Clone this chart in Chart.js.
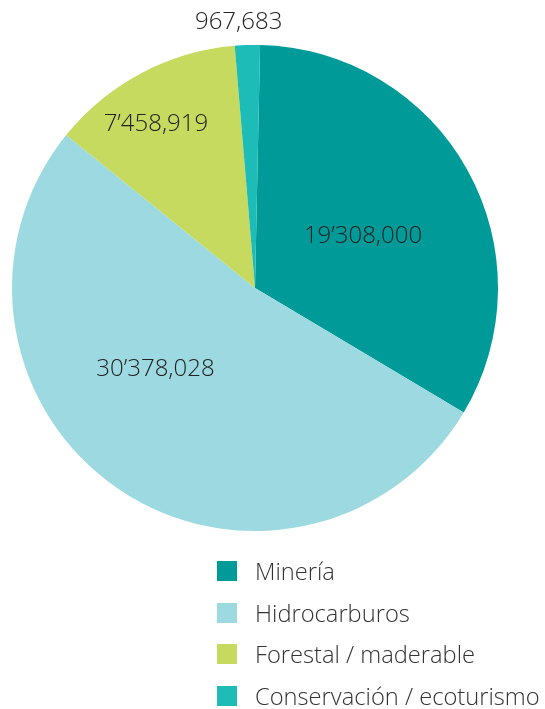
<!DOCTYPE html>
<html lang="es">
<head>
<meta charset="utf-8">
<title>Superficie por actividad</title>
<script src="https://cdn.jsdelivr.net/npm/chart.js@4.4.1/dist/chart.umd.min.js"></script>
<style>
    html, body { margin: 0; padding: 0; background: #fff; }
    body { width: 545px; height: 709px; position: relative; overflow: hidden; font-family: 'Open Sans', sans-serif; }
    .chart-wrap { position: absolute; left: 0; top: 0; width: 510px; height: 576px; }
    .legend { position: absolute; left: 217px; top: 561px; margin: 0; padding: 0; list-style: none; }
    .legend li { display: flex; align-items: center; height: 20px; margin: 0 0 21.67px 0; }
    .legend .swatch { width: 20px; height: 20px; flex: 0 0 20px; }
    .legend .name { margin-left: 18px; font-size: 23.7px; font-weight: 300; color: #333; white-space: nowrap; line-height: 20px; }
</style>
</head>
<body>
<div class="chart-wrap"><canvas id="activityPie"></canvas></div>
<ul class="legend" id="activityLegend"></ul>

<script>
// Hectáreas por tipo de actividad
const activityLabels = ['Minería', 'Hidrocarburos', 'Forestal / maderable', 'Conservación / ecoturismo'];
const activityValues = [19308000, 30378028, 7458919, 967683];
const activityText = ['19’308,000', '30’378,028', '7’458,919', '967,683'];
const activityColors = ['#009a98', '#9dd9e0', '#c5da5e', '#1ebcb6'];

// where each value sits: share of the radius, and a turn (deg) away from the slice middle
const labelRadius = [0.497, 0.524, 0.794, 1.103];
const labelTurn = [2.4, 16.5, -3.0, -1.7];

const sliceValueLabels = {
    id: 'sliceValueLabels',
    afterDatasetsDraw(chart) {
        const { ctx } = chart;
        const arcs = chart.getDatasetMeta(0).data;
        ctx.save();
        ctx.font = '300 24px "Open Sans", sans-serif';
        ctx.fillStyle = '#222';
        ctx.textAlign = 'center';
        ctx.textBaseline = 'middle';
        arcs.forEach((arc, i) => {
            const p = arc.getProps(['x', 'y', 'startAngle', 'endAngle', 'outerRadius'], true);
            const mid = (p.startAngle + p.endAngle) / 2 + labelTurn[i] * Math.PI / 180;
            const r = p.outerRadius * labelRadius[i];
            // +2 keeps the digits visually centred on the anchor
            ctx.fillText(activityText[i], p.x + Math.cos(mid) * r, p.y + Math.sin(mid) * r + 2);
        });
        ctx.restore();
    }
};

function buildLegend() {
    const list = document.getElementById('activityLegend');
    list.innerHTML = activityLabels.map((name, i) => `
        <li><span class="swatch" style="background:${activityColors[i]}"></span><span class="name">${name}</span></li>
    `).join('');
}

document.addEventListener('DOMContentLoaded', () => {
    buildLegend();
    new Chart(document.getElementById('activityPie'), {
        type: 'pie',
        data: {
            labels: activityLabels,
            datasets: [{
                data: activityValues,
                backgroundColor: activityColors,
                borderWidth: 0,
            }]
        },
        options: {
            responsive: true, maintainAspectRatio: false, animation: false,
            rotation: 1.2,
            layout: { padding: { top: 45, bottom: 45, left: 12, right: 12 } },
            plugins: { legend: { display: false }, tooltip: { enabled: false } }
        },
        plugins: [sliceValueLabels]
    });
});
</script>
</body>
</html>
